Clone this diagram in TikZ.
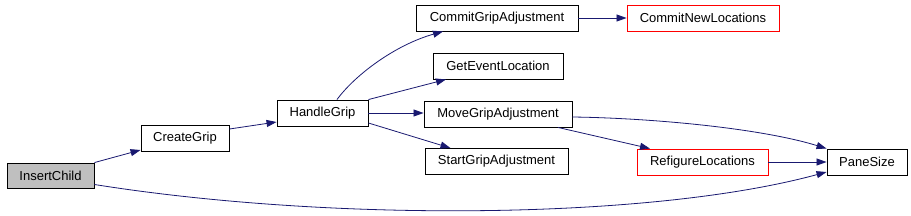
\documentclass[tikz,border=0pt]{standalone}
\usepackage{fontspec}
\setmainfont{Liberation Sans}
\usetikzlibrary{arrows.meta,calc}
\definecolor{edgeblue}{HTML}{191970}
\definecolor{nodegray}{HTML}{BFBFBF}
\begin{document}
\begin{tikzpicture}[x=1pt,y=-1pt,
  fn/.style={draw=black,line width=0.9pt,rectangle,inner sep=0pt,minimum height=26pt,font=\fontsize{13}{15}\selectfont,text=black},
  redfn/.style={fn,draw=red},
  edge/.style={draw=edgeblue,line width=0.8pt,-{Triangle[length=10pt,width=7pt]}}]
\useasboundingbox (0,0) rectangle (911,215);
\node[fn,fill=nodegray,minimum width=87pt,minimum height=25pt] (InsertChild) at (50.5,175.5) {InsertChild};
\node[fn,minimum width=88pt] (CreateGrip) at (185,138) {CreateGrip};
\node[fn,minimum width=91pt] (HandleGrip) at (322.5,113) {HandleGrip};
\node[fn,minimum width=162pt] (CommitGripAdjustment) at (497,18) {CommitGripAdjustment};
\node[fn,minimum width=130pt] (GetEventLocation) at (498,66) {GetEventLocation};
\node[fn,minimum width=148pt] (MoveGripAdjustment) at (498,114) {MoveGripAdjustment};
\node[fn,minimum width=143pt] (StartGripAdjustment) at (496.5,161.5) {StartGripAdjustment};
\node[redfn,minimum width=152pt] (CommitNewLocations) at (703,18) {CommitNewLocations};
\node[redfn,minimum width=131pt] (RefigureLocations) at (702.5,162) {RefigureLocations};
\node[fn,minimum width=80pt] (PaneSize) at (867,162) {PaneSize};

\draw[edge] (InsertChild.north east) -- ([yshift=-12pt]CreateGrip.west);
\draw[edge] ([yshift=-9pt]InsertChild.east) .. controls (330,222) and (650,220) .. ([yshift=-10pt]PaneSize.west);
\draw[edge] ([yshift=9pt]CreateGrip.east) -- ([yshift=-9pt]HandleGrip.west);
\draw[edge] ([xshift=14.5pt]HandleGrip.north) .. controls (355,75) and (395,45) .. ([xshift=-54pt]CommitGripAdjustment.south);
\draw[edge] (HandleGrip.north east) -- ([xshift=-52pt]GetEventLocation.south);
\draw[edge] (HandleGrip.east) -- (HandleGrip.east -| MoveGripAdjustment.west);
\draw[edge] ([yshift=-10pt]HandleGrip.east) -- ([xshift=-46pt]StartGripAdjustment.north);
\draw[edge] (CommitGripAdjustment.east) -- (CommitNewLocations.west);
\draw[edge] ([yshift=-3pt]MoveGripAdjustment.east) .. controls (650,118) and (760,128) .. (PaneSize.north west);
\draw[edge] ([xshift=60pt]MoveGripAdjustment.south) -- ([xshift=-52.5pt]RefigureLocations.north);
\draw[edge] (RefigureLocations.east) -- (PaneSize.west);
\end{tikzpicture}
\end{document}
